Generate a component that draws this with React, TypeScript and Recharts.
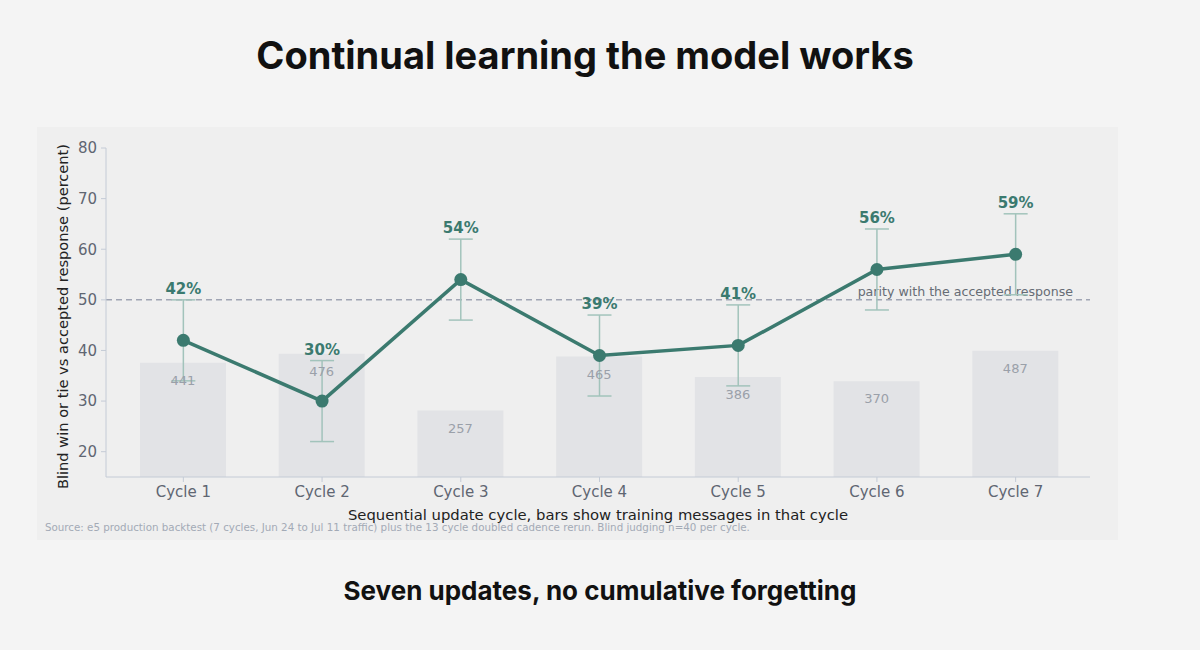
import {
  ComposedChart,
  Bar,
  Line,
  XAxis,
  YAxis,
  ErrorBar,
  LabelList,
  ReferenceLine,
  Label
} from "recharts";

// chart values
const cycles = ['Cycle 1', 'Cycle 2', 'Cycle 3', 'Cycle 4', 'Cycle 5', 'Cycle 6', 'Cycle 7'];
const winRate = [42, 30, 54, 39, 41, 56, 59];
const errorMargin = [8, 8, 8, 8, 8, 8, 8];
const trainingMessages = [441, 476, 257, 465, 386, 370, 487];
const pctTicks = [20, 30, 40, 50, 60, 70, 80];

const TEAL = '#3b7a6f';
const AXIS = '#c4cbd6';
const FONT = '"DejaVu Sans", sans-serif';

export default function App() {
  const data = cycles.map((name, i) => ({
    name,
    rate: winRate[i],
    err: errorMargin[i],
    upper: winRate[i] + errorMargin[i],
    msgs: trainingMessages[i]
  }));

  return (
    <div style={{ position: 'absolute', left: 0, top: 0, width: 1200, height: 650, background: '#f4f4f4', overflow: 'hidden' }}>
      <div style={{ position: 'absolute', left: 0, width: 1170, top: 32, textAlign: 'center', fontFamily: 'Inter, sans-serif', fontWeight: 700, fontSize: 38, color: '#111', whiteSpace: 'nowrap' }}>
        Continual learning the model works
      </div>
      <div style={{ position: 'absolute', left: 37, top: 127, width: 1081, height: 413, background: '#efefef' }} />
      <div style={{ position: 'absolute', left: 0, top: 0 }}>
        <ComposedChart
          width={1200}
          height={650}
          data={data}
          margin={{ top: 148, right: 110, left: 44, bottom: 127 }}
        >
          <XAxis
            dataKey="name"
            padding={{ left: 8, right: 5 }}
            height={46}
            stroke={AXIS}
            tickSize={5}
            tickMargin={4}
            tick={{ fill: '#5f6672', fontSize: 15, fontFamily: FONT }}
          >
            <Label
              value="Sequential update cycle, bars show training messages in that cycle"
              position="insideBottom"
              offset={3}
              style={{ fill: '#222', fontSize: 14.8, fontFamily: FONT }}
            />
          </XAxis>
          <YAxis
            yAxisId="pct"
            domain={[15, 80]}
            ticks={pctTicks}
            width={62}
            stroke={AXIS}
            tickSize={5}
            tickMargin={4}
            tick={{ fill: '#5f6672', fontSize: 15, fontFamily: FONT }}
          >
            <Label
              value="Blind win or tie vs accepted response (percent)"
              angle={-90}
              position="insideLeft"
              offset={19}
              textAnchor="middle"
              dy={4}
              style={{ fill: '#222', fontSize: 14.6, fontFamily: FONT, textAnchor: 'middle' }}
            />
          </YAxis>
          <YAxis yAxisId="msgs" orientation="right" domain={[0, 1270]} hide />
          <Bar yAxisId="msgs" dataKey="msgs" barSize={86} fill="#e2e3e6" isAnimationActive={false}>
            <LabelList
              dataKey="msgs"
              position="insideTop"
              offset={13}
              style={{ fill: '#9aa0a9', fontSize: 13, fontFamily: FONT }}
            />
          </Bar>
          <ReferenceLine
            yAxisId="pct"
            y={50}
            stroke="#a0a5b4"
            strokeWidth={1.5}
            strokeDasharray="6 4"
            label={(props: any) => {
              const vb = props.viewBox;
              return (
                <text
                  x={vb.x + vb.width - 17}
                  y={vb.y - 4}
                  textAnchor="end"
                  fill="#666c75"
                  fontSize={12.6}
                  fontFamily={FONT}
                >
                  parity with the accepted response
                </text>
              );
            }}
          />
          <Line
            yAxisId="pct"
            dataKey="upper"
            stroke="none"
            dot={false}
            activeDot={false}
            isAnimationActive={false}
          >
            <LabelList
              dataKey="rate"
              position="top"
              offset={6}
              formatter={(v: any) => `${v}%`}
              style={{ fill: TEAL, fontSize: 15, fontWeight: 700, fontFamily: FONT }}
            />
          </Line>
          <Line
            yAxisId="pct"
            dataKey="rate"
            stroke={TEAL}
            strokeWidth={3.5}
            dot={{ r: 6.5, fill: TEAL, stroke: TEAL, strokeWidth: 0 }}
            activeDot={false}
            isAnimationActive={false}
          >
            <ErrorBar dataKey="err" direction="y" width={12} stroke="#a2c3bb" strokeWidth={1.5} />
          </Line>
        </ComposedChart>
      </div>
      <div style={{ position: 'absolute', left: 45, top: 521, fontFamily: FONT, fontSize: 10.3, color: '#a3aab6', whiteSpace: 'nowrap' }}>
        Source: e5 production backtest (7 cycles, Jun 24 to Jul 11 traffic) plus the 13 cycle doubled cadence rerun. Blind judging n=40 per cycle.
      </div>
      <div style={{ position: 'absolute', left: 0, width: 1200, top: 575, textAlign: 'center', fontFamily: 'Inter, sans-serif', fontWeight: 700, fontSize: 26, color: '#111', whiteSpace: 'nowrap' }}>
        Seven updates, no cumulative forgetting
      </div>
    </div>
  );
}
